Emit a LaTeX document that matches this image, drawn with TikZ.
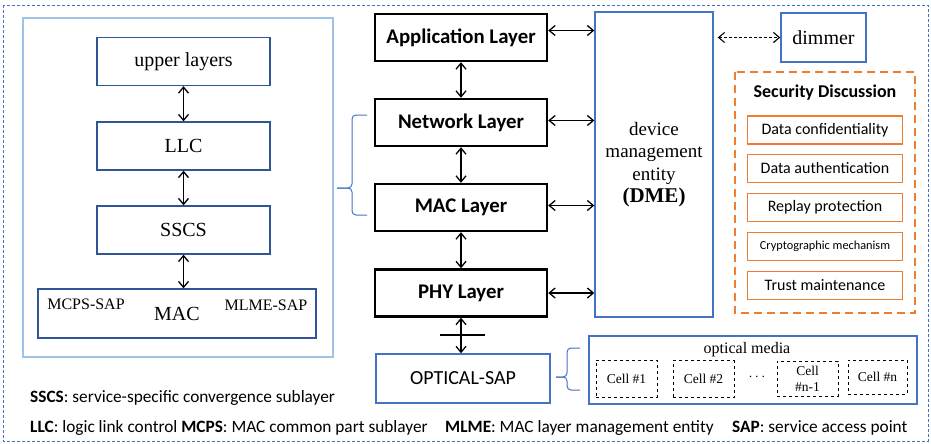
\documentclass[tikz,border=0pt]{standalone}
\usepackage{fontspec}
\setmainfont{Liberation Serif}
\setsansfont{Carlito}
\usetikzlibrary{arrows.meta, positioning}

\definecolor{navyline}{HTML}{2F5597}
\definecolor{midblue}{HTML}{4472C4}
\definecolor{paleblue}{HTML}{9DC3E6}
\definecolor{secorange}{HTML}{ED7D31}

\begin{document}
\begin{tikzpicture}[
    x=1pt, y=-1pt,
    every node/.style={inner sep=0pt},
    sub/.style={rectangle, draw=navyline, line width=1.3pt, minimum width=173pt, minimum height=48pt, font=\fontsize{20}{22}\selectfont},
    layer/.style={rectangle, draw, line width=2.4pt, minimum width=172pt, minimum height=47pt, font=\sffamily\bfseries\fontsize{20.8}{22}\selectfont},
    bluebox/.style={rectangle, draw=midblue, line width=1.4pt},
    secitem/.style={rectangle, draw=secorange, line width=1.6pt, minimum width=155pt, minimum height=28pt, font=\sffamily\fontsize{16}{18}\selectfont},
    cellbox/.style={rectangle, draw, dashed, line width=0.9pt, minimum width=61pt, minimum height=37pt, align=center, font=\fontsize{13.5}{16}\selectfont},
    note/.style={anchor=west, font=\sffamily\fontsize{17.3}{20}\selectfont},
    arrow/.style={{Straight Barb[length=6pt,width=10pt]}-{Straight Barb[length=6pt,width=10pt]}, line width=1.3pt},
    brc/.style={draw=midblue, line width=1pt, rounded corners=4pt}
]
\useasboundingbox (0,0) rectangle (931,444);

% frames
\draw[midblue, line width=0.7pt, dash pattern=on 3pt off 2pt] (3,5) rectangle (928,441);
\node[rectangle, draw=paleblue, line width=1.4pt, minimum width=310pt, minimum height=339pt] (leftbox) at (178,187.5) {};

% MAC sublayers
\node[sub] (upper) at (183.5,61.5) {upper layers};
\node[sub] (llc) at (183.5,146) {LLC};
\node[sub] (sscs) at (183.5,230) {SSCS};
\node[sub, minimum width=278pt, minimum height=49pt] (mac) at (177,313.5) {MAC};
\node[font=\fontsize{16}{18}\selectfont] (mcps) at (86,304) {MCPS-SAP};
\node[font=\fontsize{16}{18}\selectfont] (mlme) at (266,305) {MLME-SAP};

\draw[arrow] (upper) -- (llc);
\draw[arrow] (llc) -- (sscs);
\draw[arrow] (sscs.south) -- (sscs.south |- mac.north);

% protocol stack
\node[layer] (app) at (461,37.5) {Application Layer};
\node[layer] (net) at (461,122.5) {Network Layer};
\node[layer] (macl) at (461,207.5) {MAC Layer};
\node[layer] (phy) at (461,293) {PHY Layer};
\node[bluebox, minimum width=174pt, minimum height=49pt, font=\sffamily\fontsize{20}{22}\selectfont] (opt) at (463,378.5) {OPTICAL-SAP};

\draw[arrow] (app) -- (net);
\draw[arrow] (net) -- (macl);
\draw[arrow] (macl) -- (phy);
\draw[arrow] (phy.south) -- (phy.south |- opt.north);
\draw[line width=1.2pt] (440,335) -- (485,335);

% DME
\node[bluebox, minimum width=118pt, minimum height=305pt, align=center, font=\fontsize{19}{22.5}\selectfont] (dme) at (654,164.5)
    {device\\management\\entity\\{\fontsize{21}{23}\selectfont\textbf{(DME)}}};

\draw[arrow] ([yshift=7pt]app.east) -- ([yshift=7pt]app.east -| dme.west);
\draw[arrow] ([yshift=2pt]net.east) -- ([yshift=2pt]net.east -| dme.west);
\draw[arrow] ([yshift=2pt]macl.east) -- ([yshift=2pt]macl.east -| dme.west);
\draw[arrow] (phy.east) -- (phy.east -| dme.west);

\node[bluebox, minimum width=85pt, minimum height=49pt, font=\fontsize{20}{22}\selectfont] (dimmer) at (823.5,37.5) {dimmer};
\draw[arrow, dash pattern=on 3pt off 2pt, line width=1.1pt] ([xshift=4pt]dme.east |- dimmer.west) -- (dimmer.west);

% security
\draw[secorange, line width=2pt, dash pattern=on 8pt off 5pt] (735,72) rectangle (915,313);
\node[font=\sffamily\bfseries\fontsize{18}{20}\selectfont] (sectitle) at (825,93) {Security Discussion};
\node[secitem] (conf) at (825,130) {Data confidentiality};
\node[secitem] (auth) at (825,168.5) {Data authentication};
\node[secitem] (replay) at (825,207.5) {Replay protection};
\node[secitem, font=\sffamily\fontsize{12.3}{14}\selectfont] (crypto) at (825,246.5) {Cryptographic mechanism};
\node[secitem] (trust) at (825,285.5) {Trust maintenance};

% optical media
\node[bluebox, minimum width=328pt, minimum height=68pt] (media) at (753,370) {};
\node[font=\fontsize{16}{18}\selectfont] (medialabel) at (747,350) {optical media};
\node[cellbox] (cell1) at (626.5,378.5) {Cell \#1};
\node[cellbox] (cell2) at (703.5,379) {Cell \#2};
\node[font=\fontsize{14}{16}\selectfont] (celldots) at (757,377) {$\cdots$};
\node[cellbox, minimum height=35pt] (cellm) at (807.5,378.5) {Cell\\\#n-1};
\node[cellbox, minimum width=59pt, minimum height=34pt] (celln) at (877.5,377) {Cell \#n};

% braces
\draw[brc] (367,115) -- (352,115) -- (352,188) -- (337,188);
\draw[brc] (337,188) -- (352,188) -- (352,215) -- (367,215);
\draw[brc] (580,348) -- (567,348) -- (567,377) -- (556,377);
\draw[brc] (556,377) -- (567,377) -- (567,390) -- (580,390);

% legend
\node[note] (sscsnote) at (30,398) {\textbf{SSCS}: service-specific convergence sublayer};
\node[note] (llcnote) at (30,428) {\textbf{LLC}: logic link control \textbf{MCPS}: MAC common part sublayer};
\node[note] (mlmenote) at (445,428) {\textbf{MLME}: MAC layer management entity};
\node[note] (sapnote) at (732,428) {\textbf{SAP}: service access point};

\end{tikzpicture}
\end{document}
